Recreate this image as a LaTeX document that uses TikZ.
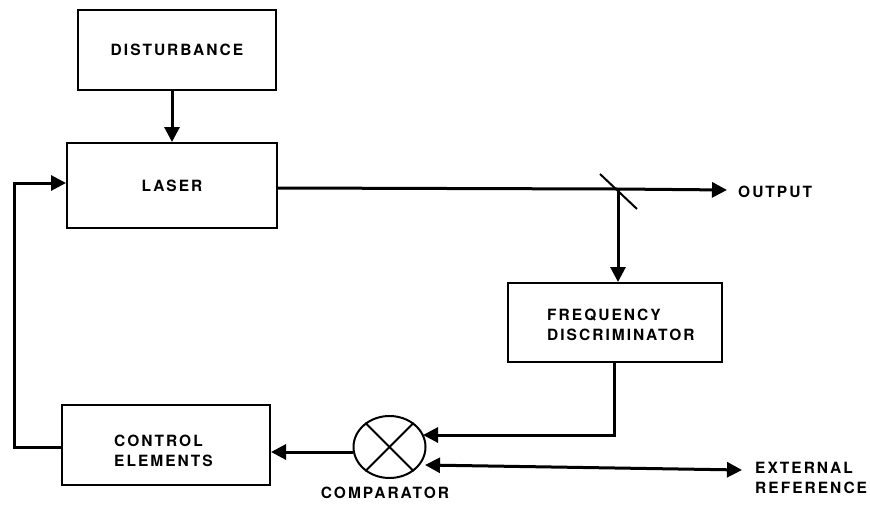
\documentclass[tikz,border=0pt]{standalone}
\usepackage{fontspec}
\setmainfont{TeX Gyre Heros}[LetterSpace=13]
\usetikzlibrary{arrows.meta,shapes.geometric}
\begin{document}
\begin{tikzpicture}[x=1pt,y=-1pt,
  blk/.style={draw,line width=2pt,inner sep=0pt},
  lbl/.style={font=\bfseries\fontsize{15.5}{20}\selectfont,align=left,inner sep=0pt},
  conn/.style={line width=3pt},
  arr/.style={conn,-{Triangle[length=15pt,width=15pt]}}]
\useasboundingbox (0,0) rectangle (870,506);
\node[blk,minimum width=198pt,minimum height=80pt] (dist) at (177,50) {};
\node[lbl] at (dist.center) {DISTURBANCE};
\node[blk,minimum width=210pt,minimum height=85pt] (laser) at (172,185.5) {};
\node[lbl] at (laser.center) {LASER};
\node[blk,minimum width=214pt,minimum height=79pt] (fd) at (615,322.5) {};
\node[lbl,anchor=west] at (547,325) {FREQUENCY\\DISCRIMINATOR};
\node[blk,minimum width=208pt,minimum height=80pt] (ce) at (166,445) {};
\node[lbl,anchor=west] at (114,451) {CONTROL\\ELEMENTS};
\node[draw,ellipse,line width=2pt,minimum width=72pt,minimum height=62pt,inner sep=0pt] (cmp) at (389.5,447) {};
\draw[line width=2pt] (cmp.45) -- (cmp.225) (cmp.135) -- (cmp.315);
\node[lbl] (cmpl) at (385,493) {COMPARATOR};
\node[lbl,anchor=west] (out) at (738,192) {OUTPUT};
\node[lbl,anchor=west] (ext) at (755,478) {EXTERNAL\\REFERENCE};
\coordinate (bs) at (618,189);
\coordinate (outtip) at (727,190);
\coordinate (exttip) at (742,470);
\coordinate (cin1) at (423,435);
\coordinate (cin2) at (425,465);
\draw[arr] (dist.south -| 172,0) -- (laser.north -| 172,0);
\draw[conn] (laser.east |- 0,188) -- (bs);
\draw[arr] (bs) -- (outtip);
\draw[line width=2pt] (600,174) -- (637,209);
\draw[arr] (bs) -- (fd.north -| bs);
\draw[arr] (fd.south -| 614,0) -- (614,435) -- (cin1);
\draw[arr] (cmp.west |- 0,452) -- (ce.east |- 0,452);
\draw[arr] (ce.west |- 0,447) -- (14,447) -- (14,183) -- (laser.west |- 0,183);
\draw[conn,{Triangle[length=15pt,width=15pt]}-{Triangle[length=15pt,width=15pt]}] (cin2) -- (exttip);
\end{tikzpicture}
\end{document}
